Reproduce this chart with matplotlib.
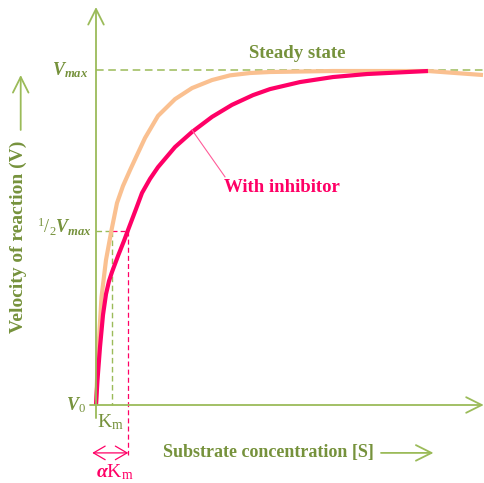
import matplotlib.pyplot as plt

# Michaelis-Menten curves: substrate conc. (in units of Km) vs. velocity (fraction of Vmax)
s_normal = [0.0, 0.067, 0.167, 0.367, 0.667, 1.033, 1.4, 1.8, 2.267, 2.733, 3.267,
            4.133, 5.267, 6.4, 7.733, 8.933, 10.267, 11.6, 15.8, 22.133, 25.8]
v_normal = [0.0, 0.075, 0.173, 0.322, 0.433, 0.522, 0.603, 0.654, 0.701, 0.746, 0.797,
            0.863, 0.913, 0.946, 0.97, 0.984, 0.991, 0.994, 0.997, 0.997, 0.985]

s_inhib = [0.0, 0.1, 0.267, 0.467, 0.667, 0.867, 1.067, 1.467, 1.867, 2.133, 2.667, 3.067,
           3.6, 4.133, 5.267, 6.4, 7.733, 9.067, 10.467, 11.6, 13.6, 15.8, 18.067, 22.133]
v_inhib = [0.0, 0.075, 0.173, 0.269, 0.331, 0.37, 0.397, 0.445, 0.49, 0.522, 0.585, 0.633,
           0.675, 0.71, 0.77, 0.815, 0.86, 0.896, 0.925, 0.943, 0.964, 0.979, 0.988, 0.997]

vmax = 1.0
half_v = 0.52
km = 1.05
alpha_km = 2.15

GREEN = '#9BBB59'
GREEN_TXT = '#76923C'
PINK = '#FF0066'
ORANGE = '#FAC090'

plt.rcParams['font.family'] = ['Liberation Serif', 'DejaVu Serif']
plt.rcParams['mathtext.fontset'] = 'custom'
plt.rcParams['mathtext.rm'] = 'Liberation Serif'
plt.rcParams['mathtext.it'] = 'Liberation Serif:italic:bold'
plt.rcParams['mathtext.bf'] = 'Liberation Serif:bold'

fig = plt.figure(figsize=(4.84, 4.83), dpi=100)
ax = fig.add_axes([0, 0, 1, 1])
ax.set_xlim(-96 / 15, 388 / 15)
ax.set_ylim(-78 / 335, 405 / 335)
ax.axis('off')

arrow = dict(arrowstyle='->,head_length=0.8,head_width=0.4', color=GREEN, lw=1.3,
             shrinkA=0, shrinkB=0, mutation_scale=14)

# axes with arrows
ax.annotate('', xy=(0, 1.188), xytext=(0, -0.039), arrowprops=arrow)
ax.annotate('', xy=(25.85, 0), xytext=(-0.4, 0), arrowprops=arrow)

# guide lines
ax.plot([0, 25.9], [vmax, vmax], color=GREEN, lw=1.1, ls=(0, (5, 3)))
ax.plot([0, km], [half_v, half_v], color=GREEN, lw=1.0, ls=(0, (4, 2.5)))
ax.plot([km, alpha_km], [half_v, half_v], color=PINK, lw=0.9, ls=(0, (4, 2.5)))
ax.plot([km, km], [half_v, 0], color=GREEN, lw=1.0, ls=(0, (4, 2.5)))
ax.plot([alpha_km, alpha_km], [half_v, -0.149], color=PINK, lw=0.9, ls=(0, (4, 2.5)))

# curves
ax.plot(s_normal, v_normal, color=ORANGE, lw=3, solid_capstyle='butt', solid_joinstyle='round')
ax.plot(s_inhib, v_inhib, color=PINK, lw=3, solid_capstyle='butt', solid_joinstyle='round')

# alpha*Km span
ax.annotate('', xy=(-0.25, -0.143), xytext=(alpha_km, -0.143),
            arrowprops=dict(arrowstyle='<->,head_length=0.6,head_width=0.35', color=PINK,
                            lw=0.9, shrinkA=0, shrinkB=0, mutation_scale=14))

# labels on the axes
ax.text(-0.55, vmax, r'$V_{max}$', color=GREEN_TXT, fontsize=13, ha='right', va='center')
ax.text(-0.3, half_v + 0.01, r'${}^{1}/{}_{2}V_{max}$', color=GREEN_TXT, fontsize=13,
        ha='right', va='center')
ax.text(-0.7, 0.0, r'$V_{\mathit{0}}$', color=GREEN_TXT, fontsize=13, ha='right', va='center')
ax.text(0.05, -0.022, r'$\mathrm{K_m}$', color=GREEN_TXT, fontsize=14, ha='left', va='top')
ax.text(0.0, -0.172, r'$\alpha\mathrm{K_m}$', color=PINK, fontsize=14, ha='left', va='top')

ax.text(13.4, 1.05, 'Steady state', color=GREEN_TXT, fontsize=13.5, fontweight='bold',
        ha='center', va='center')
ax.text(8.55, 0.648, 'With inhibitor', color=PINK, fontsize=13.5, fontweight='bold',
        ha='left', va='center')
ax.plot([6.4, 8.6], [0.821, 0.681], color='#FF5C99', lw=0.8)

ax.text(4.47, -0.143, 'Substrate concentration [S]', color=GREEN_TXT, fontsize=13,
        fontweight='bold', ha='left', va='center')
ax.annotate('', xy=(22.5, -0.143), xytext=(19.0, -0.143), arrowprops=arrow)

ax.text(-5.2, 0.501, 'Velocity of reaction (V)', color=GREEN_TXT, fontsize=14,
        fontweight='bold', ha='center', va='center', rotation=90)
ax.annotate('', xy=(-5.02, 0.985), xytext=(-5.02, 0.821), arrowprops=arrow)

fig.savefig('out.png', dpi=100)
